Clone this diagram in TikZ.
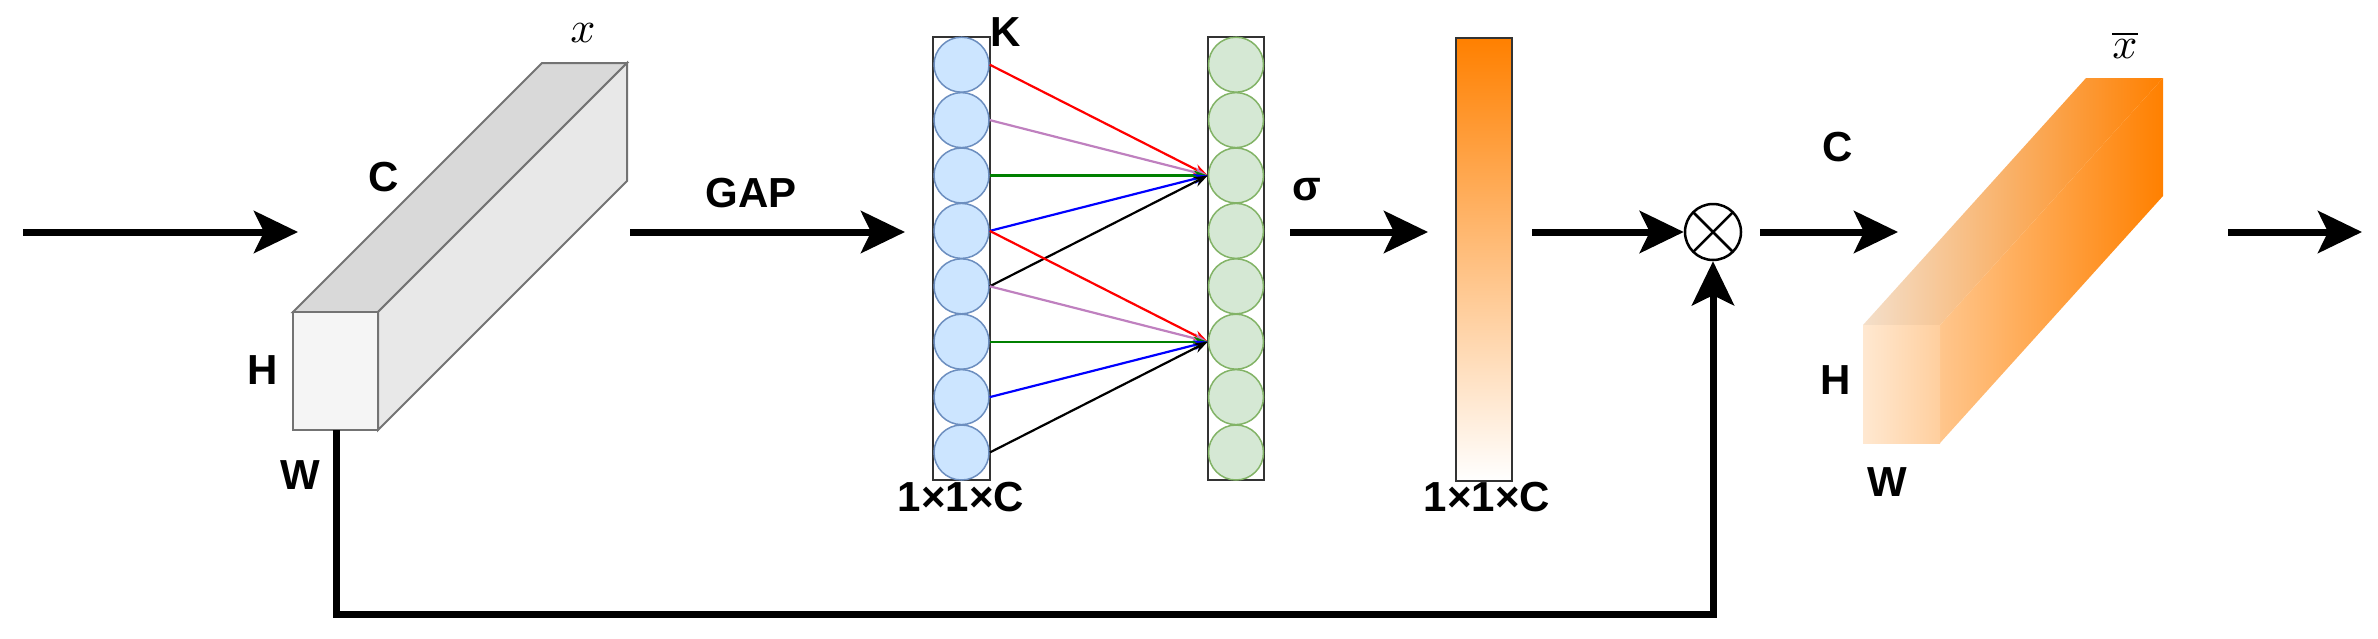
\documentclass[tikz,border=0pt]{standalone}
\usepackage{fontspec}
\setmainfont{Liberation Sans}
\usetikzlibrary{arrows.meta,calc}
\definecolor{bfill}{HTML}{CCE5FF}
\definecolor{bdraw}{HTML}{6C8EBF}
\definecolor{gfill}{HTML}{D5E8D4}
\definecolor{gdraw}{HTML}{82B366}
\definecolor{orng}{HTML}{FF8000}
\begin{document}
\begin{tikzpicture}[x=1pt,y=-1pt,
  big/.style={line width=7pt,-{Stealth[length=44pt,width=42pt,inset=10pt]}},
  lbl/.style={font=\fontsize{42}{48}\selectfont\bfseries},
  mlbl/.style={scale=4.4},
  bc/.style={circle,draw=bdraw,fill=bfill,line width=1.5pt,minimum size=55pt,inner sep=0},
  gc/.style={circle,draw=gdraw,fill=gfill,line width=1.5pt,minimum size=55pt,inner sep=0},
  cn/.style={line width=2.2pt,-{Stealth[length=14pt,width=10pt]}}]
\useasboundingbox (0,0) rectangle (2378,638);
% input arrow
\coordinate (in0) at (23,232); \coordinate (in1) at (298,232);
\draw[big] (in0) -- (in1);
% gray cuboid
\coordinate (fa) at (293,312); \coordinate (fb) at (378,312);
\coordinate (fc) at (378,430); \coordinate (fd) at (293,430);
\coordinate (ba) at ($(fa)+(249,-249)$); \coordinate (bb) at ($(fb)+(249,-249)$);
\coordinate (bc) at ($(fc)+(249,-249)$);
\draw[gray!90!black,line width=2pt,fill=gray!30] (fa)--(ba)--(bb)--(fb)--cycle;
\draw[gray!90!black,line width=2pt,fill=gray!18] (fb)--(bb)--(bc)--(fc)--cycle;
\draw[gray!90!black,line width=2pt,fill=gray!8] (fa) rectangle (fc);
\node[mlbl] (xl) at (583,33) {$x$};
\node[lbl] (c1) at (384,177) {C};
\node[lbl] (h1) at (263,370) {H};
\node[lbl] (w1) at (300,475) {W};
% GAP arrow
\coordinate (g0) at (630,232); \coordinate (g1a) at (905,232);
\draw[big] (g0) -- (g1a);
\node[lbl] (gap) at (751,193) {GAP};
% columns
\draw[black!80,line width=2.5pt] (933,37) rectangle (990,480);
\draw[black!80,line width=2.5pt] (1208,37) rectangle (1264,480);
\foreach \i in {1,...,8}{
  \node[bc] (b\i) at (961.5,{37+(\i-0.5)*55.4}) {};
  \node[gc] (g\i) at (1236,{37+(\i-0.5)*55.4}) {};
}
\node[lbl] (K) at (1006,32) {K};
\node[lbl] (s1) at (961,497) {1×1×C};
% connections
\foreach \s/\t/\c in {1/3/red,2/3/violet!50,3/3/green!50!black,4/3/blue,5/3/black,
                      4/6/red,5/6/violet!50,6/6/green!50!black,7/6/blue,8/6/black}{
  \draw[cn,draw=\c] (b\s.east) -- (g\t.west);
}
% sigma arrow
\coordinate (s0) at (1290,232); \coordinate (s1a) at (1428,232);
\draw[big] (s0) -- (s1a);
\node[lbl] (sig) at (1307,190) {σ};
% orange bar
\shade[top color=orng,bottom color=white] (1456,38) rectangle (1512,481);
\draw[black!80,line width=2pt] (1456,38) rectangle (1512,481);
\node[lbl] (s2) at (1487,497) {1×1×C};
% otimes
\node[circle,draw,line width=2.5pt,minimum size=56pt,inner sep=0] (ot) at (1713,232) {};
\draw[line width=2.5pt] ($(ot)+(-20,-20)$) -- ($(ot)+(20,20)$) ($(ot)+(-20,20)$) -- ($(ot)+(20,-20)$);
\coordinate (o0) at (1532,232);
\draw[big] (o0) -- (ot.west);
% skip
\coordinate (sk0) at (336,430);
\coordinate (sk1) at (1713,614);
\draw[big] (sk0) |- (sk1) -- (ot.south);
% arrow to output
\coordinate (p0) at (1760,232); \coordinate (p1) at (1898,232);
\draw[big] (p0) -- (p1);
% orange cuboid
\coordinate (oa) at (1863,325); \coordinate (ob) at (1940,325);
\coordinate (oc) at (1940,443); \coordinate (od) at (1863,443);
\coordinate (oba) at ($(oa)+(223,-247)$); \coordinate (obb) at ($(ob)+(223,-247)$);
\coordinate (obc) at ($(oc)+(223,-247)$);
\shade[left color=orng!30!brown!25!white,right color=orng] (oa)--(oba)--(obb)--(ob)--cycle;
\shade[left color=orng!45,right color=orng] (ob)--(obb)--(obc)--(oc)--cycle;
\shade[left color=orng!18,right color=orng!38] (oa) rectangle (oc);
\node[mlbl] (xb) at (2125,45) {$\overline{x}$};
\node[lbl] (c2) at (1838,147) {C};
\node[lbl] (h2) at (1836,380) {H};
\node[lbl] (w2) at (1887,482) {W};
% output arrow
\coordinate (q0) at (2228,232); \coordinate (q1) at (2362,232);
\draw[big] (q0) -- (q1);
\end{tikzpicture}
\end{document}
